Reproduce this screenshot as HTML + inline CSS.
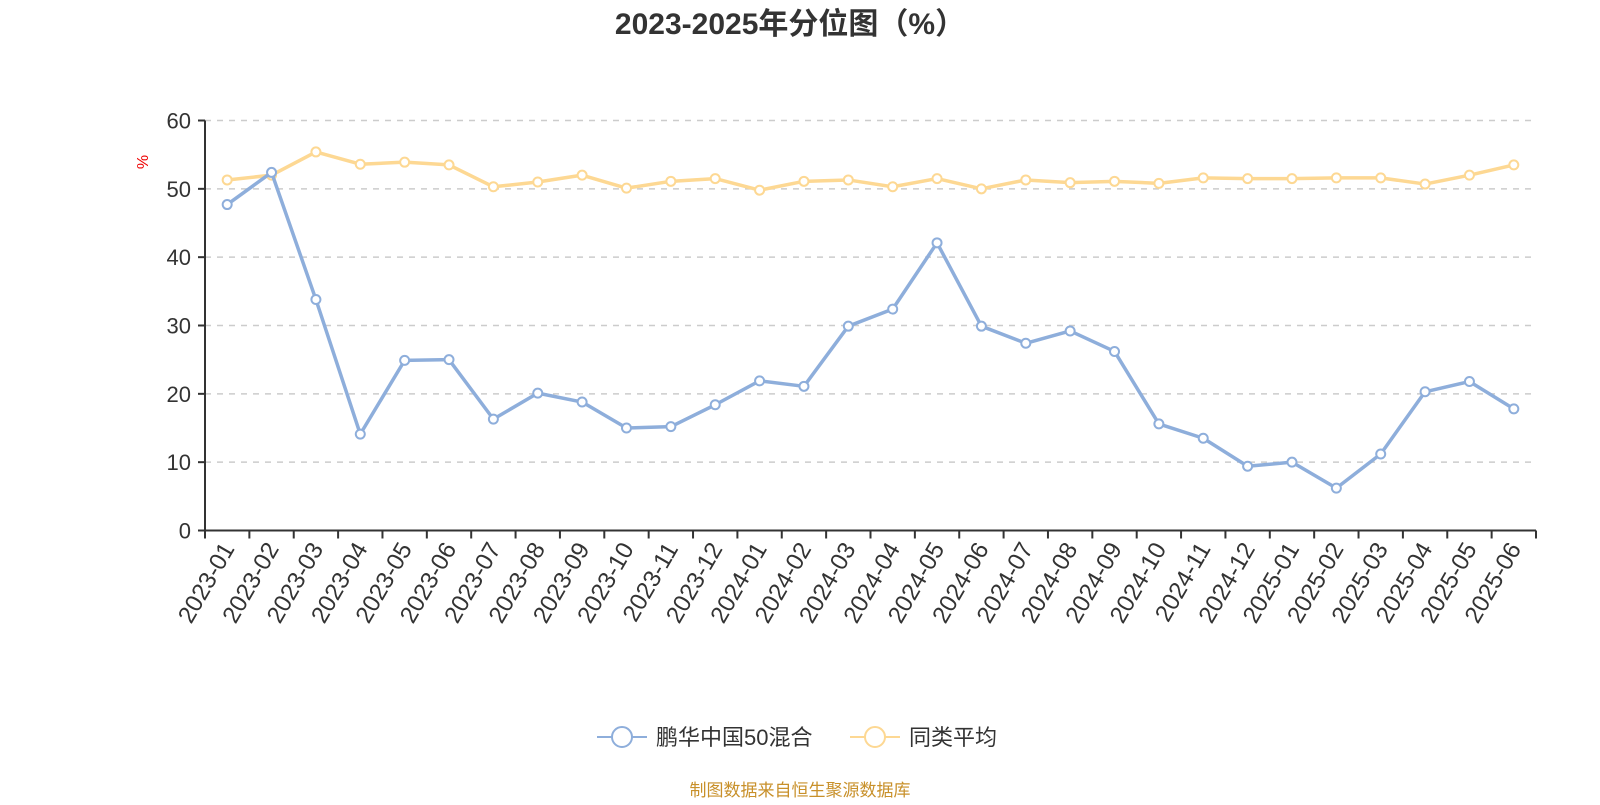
<!DOCTYPE html>
<html><head><meta charset="utf-8"><style>
body{margin:0;background:#fff;}
svg text{font-family:"Liberation Sans","Noto Sans CJK SC",sans-serif;}
</style></head><body>
<svg id="chart" width="1600" height="800" xmlns="http://www.w3.org/2000/svg">
<text x="790" y="34" text-anchor="middle" font-size="30" font-weight="bold" fill="#333">2023-2025年分位图（%）</text>
<text x="148" y="162" font-size="16" fill="#e00" transform="rotate(-90 148 162)" text-anchor="middle">%</text>
<g id="grid"></g><g id="axes"></g><g id="series"></g>
<g>
<g>
<line x1="597" y1="737" x2="647" y2="737" stroke="#8eaedb" stroke-width="2"/>
<circle cx="622" cy="737" r="10" fill="#fff" stroke="#8eaedb" stroke-width="2"/>
<text x="656" y="745" font-size="22" fill="#333">鹏华中国50混合</text></g>
<g>
<line x1="850" y1="737" x2="900" y2="737" stroke="#fdd893" stroke-width="2"/>
<circle cx="875" cy="737" r="10" fill="#fff" stroke="#fdd893" stroke-width="2"/>
<text x="909" y="745" font-size="22" fill="#333">同类平均</text></g>
</g>
<text x="800" y="796" text-anchor="middle" font-size="17" fill="#c8902a">制图数据来自恒生聚源数据库</text>
</svg>
<script>
const categories=["2023-01","2023-02","2023-03","2023-04","2023-05","2023-06","2023-07","2023-08","2023-09","2023-10","2023-11","2023-12","2024-01","2024-02","2024-03","2024-04","2024-05","2024-06","2024-07","2024-08","2024-09","2024-10","2024-11","2024-12","2025-01","2025-02","2025-03","2025-04","2025-05","2025-06"];
const fundValues=[47.7,52.4,33.8,14.1,24.9,25.0,16.3,20.1,18.8,15.0,15.2,18.4,21.9,21.1,29.9,32.4,42.1,29.9,27.4,29.2,26.2,15.6,13.5,9.4,10.0,6.2,11.2,20.3,21.8,17.8];
const avgValues=[51.3,52.0,55.4,53.6,53.9,53.5,50.3,51.0,52.0,50.1,51.1,51.5,49.8,51.1,51.3,50.3,51.5,50.0,51.3,50.9,51.1,50.8,51.6,51.5,51.5,51.6,51.6,50.7,52.0,53.5];
const yTicks=[0,10,20,30,40,50,60];
const NS="http://www.w3.org/2000/svg";
const X0=205,X1=1536,Y0=530.5,Y1=120.5,YMAX=60;
const band=(X1-X0)/categories.length;
function xs(i){return X0+band*(i+0.5);}
function ys(v){return Y0-(v/YMAX)*(Y0-Y1);}
function mk(tag,attrs,parent){const e=document.createElementNS(NS,tag);for(const k in attrs)e.setAttribute(k,attrs[k]);parent.appendChild(e);return e;}
const grid=document.getElementById('grid'),axes=document.getElementById('axes'),series=document.getElementById('series');
yTicks.forEach(t=>{
 const y=ys(t);
 if(t>0){const g=mk('line',{x1:X0,x2:X1,y1:y,y2:y,stroke:'#ccc','stroke-width':1.5,'stroke-dasharray':'6,6'},grid);
 
 }
 const tk=mk('line',{x1:X0-7,x2:X0,y1:y,y2:y,stroke:'#333','stroke-width':2},axes);
 
 
 const tx=mk('text',{x:X0-14,y:y+8,'text-anchor':'end','font-size':22,fill:'#333'},axes);
 
 
 tx.textContent=t;
});
const ya=mk('line',{x1:X0,x2:X0,y1:Y1,y2:Y0,stroke:'#333','stroke-width':2},axes);


const xa=mk('line',{x1:X0,x2:X1,y1:Y0,y2:Y0,stroke:'#333','stroke-width':2},axes);


for(let i=0;i<=categories.length;i++){
 const x=X0+band*i;
 const t=mk('line',{x1:x,x2:x,y1:Y0,y2:Y0+8,stroke:'#333','stroke-width':2},axes);
 
 
}
categories.forEach((c,i)=>{
 const x=xs(i)+8,y=Y0+18;
 const t=mk('text',{x:x,y:y,'text-anchor':'end','font-size':24,fill:'#333',transform:`rotate(-60 ${x} ${y})`},axes);
 
 
 t.textContent=c;
});
function drawSeries(vals,color,name){
 const p=mk('polyline',{points:vals.map((v,i)=>xs(i)+','+ys(v)).join(' '),fill:'none',stroke:color,'stroke-width':3.5,'stroke-linejoin':'round'},series);
 
 
 vals.forEach((v,i)=>{
  const c=mk('circle',{cx:xs(i),cy:ys(v),r:4.5,fill:'#fff',stroke:color,'stroke-width':2},series);
  
  
 });
}
drawSeries(avgValues,'#fdd893','average');
drawSeries(fundValues,'#8eaedb','fund');
</script>
</body></html>
